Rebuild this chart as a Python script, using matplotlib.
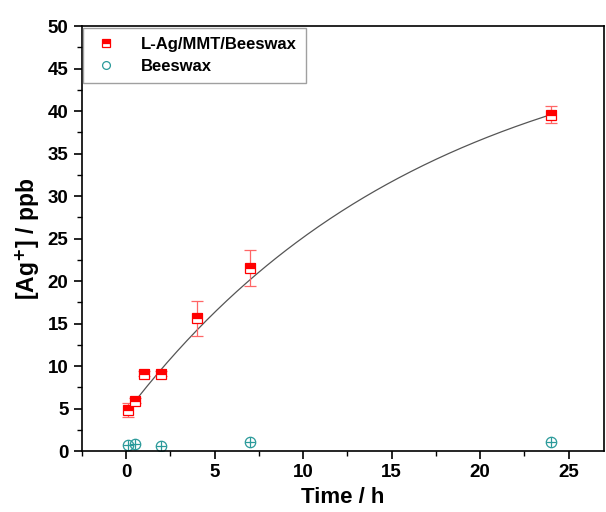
import numpy as np
import matplotlib.pyplot as plt
from matplotlib.ticker import MultipleLocator

plt.rcParams['font.family'] = ['Liberation Sans', 'DejaVu Sans']
plt.rcParams['font.weight'] = 'bold'
plt.rcParams['mathtext.default'] = 'bf'

# release data
t_comp = [0.083, 0.5, 1, 2, 4, 7, 24]
ag_comp = [4.8, 5.9, 9.1, 9.1, 15.6, 21.5, 39.6]
err_comp = [0.8, 0.3, 0.3, 0.3, 2.1, 2.1, 1.0]

t_wax = [0.083, 0.5, 2, 7, 24]
ag_wax = [0.7, 0.8, 0.6, 1.1, 1.1]

# exponential fit  y = y0 + A*(1 - exp(-t/tau))
fit_y0, fit_A, fit_tau = 4.5, 46.4, 17.0

fig = plt.figure(figsize=(6.06, 5.12), dpi=100)
ax = fig.add_axes([0.135, 0.119, 0.862, 0.830])

tt = np.linspace(0.083, 24, 300)
ax.plot(tt, fit_y0 + fit_A * (1 - np.exp(-tt / fit_tau)), color='#555555', lw=0.9)

ax.errorbar(t_comp, ag_comp, yerr=err_comp, fmt='none', ecolor='#ff6666',
            elinewidth=0.9, capsize=4, capthick=0.9)
ax.plot(t_comp, ag_comp, ls='none', marker='s', ms=7, color='red',
        fillstyle='top', markerfacecoloralt='white', mec='red', mew=0.9,
        label='L-Ag/MMT/Beeswax')

ax.plot(t_wax, ag_wax, ls='none', marker='o', ms=7.5, mfc='none', mec='#2a9a9a',
        mew=0.9, label='Beeswax')
ax.plot(t_wax, ag_wax, ls='none', marker='+', ms=7.5, color='#2a9a9a', mew=0.9)

ax.set_xlim(-2.5, 27)
ax.set_ylim(0, 50)
ax.xaxis.set_major_locator(MultipleLocator(5))
ax.xaxis.set_minor_locator(MultipleLocator(2.5))
ax.yaxis.set_major_locator(MultipleLocator(5))
ax.yaxis.set_minor_locator(MultipleLocator(2.5))
ax.tick_params(which='major', direction='out', length=6, width=1.2, labelsize=13.5)
ax.tick_params(which='minor', direction='out', length=3.5, width=1.0)
ax.tick_params(top=False, right=False, which='both')
for s in ax.spines.values():
    s.set_linewidth(1.2)

ax.set_xlabel('Time / h', fontsize=16, fontweight='bold', labelpad=4)
ax.set_ylabel('[Ag$^{+}$] / ppb', fontsize=16.5, fontweight='bold', labelpad=4)

leg = ax.legend(loc='upper left', bbox_to_anchor=(0.0, 1.0), fontsize=12,
                frameon=True, fancybox=False, edgecolor='#888888',
                borderaxespad=0.1, handlelength=1.6, handletextpad=1.3,
                borderpad=0.55, labelspacing=0.4, markerscale=0.75)
leg.get_frame().set_linewidth(1.0)

fig.savefig('out.png', dpi=100)
